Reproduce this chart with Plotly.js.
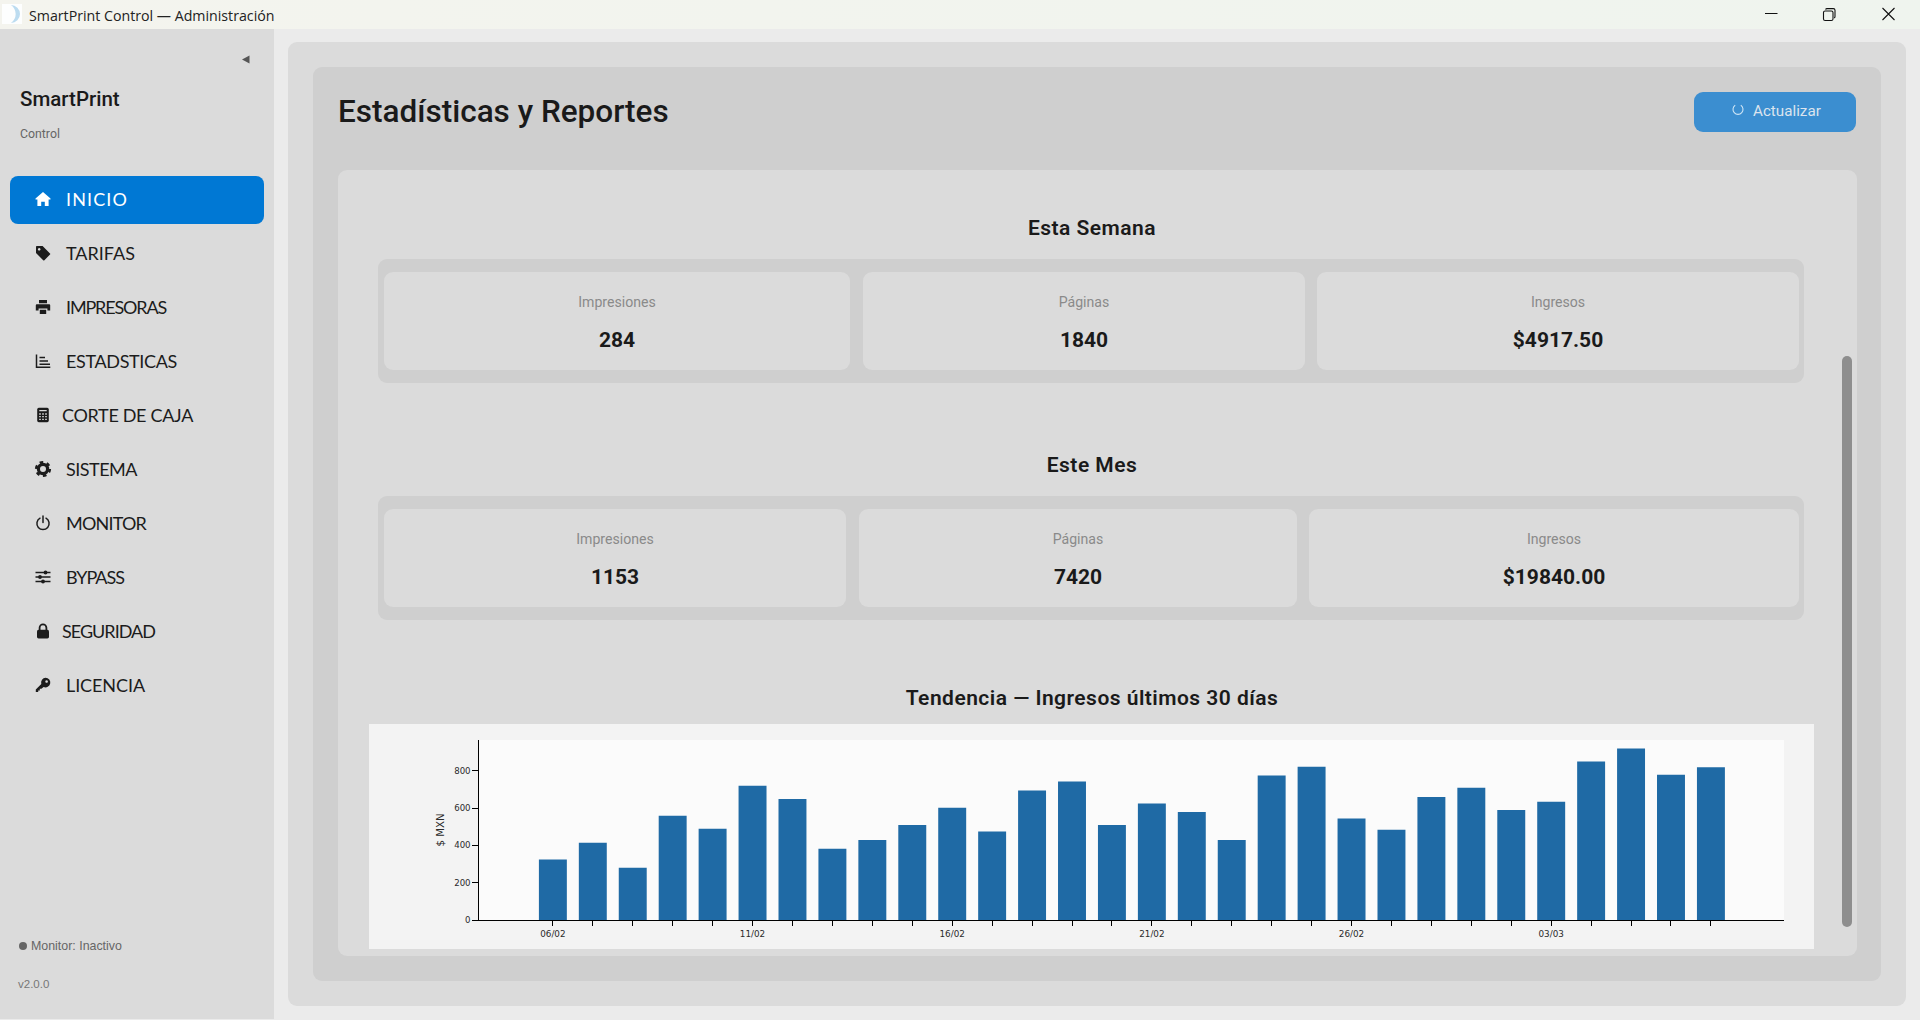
<!DOCTYPE html>
<html><head><meta charset="utf-8">
<script src="https://cdn.plot.ly/plotly-3.0.1.min.js"></script>
<style>
html,body{margin:0;padding:0;width:1920px;height:1020px;overflow:hidden;background:#ebebeb;font-family:Roboto,sans-serif}
.b{position:absolute;box-sizing:border-box}
.t{position:absolute;white-space:nowrap;line-height:1}
svg{position:absolute;overflow:visible}
</style></head><body>
<div id="root"></div>
<script>
// ---- chart data ----
const days = ["06/02","07/02","08/02","09/02","10/02","11/02","12/02","13/02","14/02","15/02","16/02","17/02","18/02","19/02","20/02","21/02","22/02","23/02","24/02","25/02","26/02","27/02","28/02","01/03","02/03","03/03","04/03","05/03","06/03","07/03"];
const revenue = [325,415,280,560,490,720,650,383,430,510,603,475,695,743,510,625,580,430,775,822,545,485,660,710,590,635,850,920,780,820];
const labeledDays = ["06/02","11/02","16/02","21/02","26/02","03/03"];
const yTicks = [0,200,400,600,800];
// ---- page text ----
const kpiLabels = ["Impresiones","Páginas","Ingresos"];
const weekValues = ["284","1840","$4917.50"];
const monthValues = ["1153","7420","$19840.00"];
const navItems = ["INICIO","TARIFAS","IMPRESORAS","ESTADSTICAS","CORTE DE CAJA","SISTEMA","MONITOR","BYPASS","SEGURIDAD","LICENCIA"];
const navIcons = ["home","tag","print","chart","calc","gear","power","sliders","lock","key"];

const root = document.getElementById('root');
function box(x0,y0,x1,y1,bg,r){const d=document.createElement('div');d.className='b';
  d.style.cssText+=`left:${x0}px;top:${y0}px;width:${x1-x0}px;height:${y1-y0}px;background:${bg};border-radius:${r||0}px`;root.appendChild(d);return d;}
function text(s,x,y,o){o=o||{};const d=document.createElement('div');d.className='t';d.textContent=s;
  const tx=o.center?'-50%':'0';
  d.style.cssText+=`left:${x}px;top:${y}px;transform:translate(${tx},-50%);font:${o.w||400} ${o.s||14}px ${o.f||'Roboto'},sans-serif;color:${o.c||'#1a1a1a'};letter-spacing:${o.ls||0}px`;
  root.appendChild(d);return d;}
function svg(x,y,w,h,vb,inner){const n=document.createElementNS('http://www.w3.org/2000/svg','svg');
  n.setAttribute('viewBox',vb);n.setAttribute('width',w);n.setAttribute('height',h);n.style.left=x+'px';n.style.top=y+'px';n.innerHTML=inner;root.appendChild(n);}

function icon(name,c){
  const bg = c==='#fff' ? '#0078d4' : '#dbdbdb';
  const s=`stroke="${c}" fill="none"`;
  return {
   home:`<path fill="${c}" d="M8 1L15.5 7.6V8.6H13.6V15H9.8V10.8H6.2V15H2.4V8.6H.5V7.6Z"/>`,
   tag:`<path fill="${c}" fill-rule="evenodd" d="M1 1.8Q1 1 1.8 1H7.6L15 8.4Q15.6 9 15 9.6L9.4 15.2Q8.8 15.8 8.2 15.2L1 8ZM4.2 3A1.3 1.3 0 1 0 4.21 3Z"/>`,
   print:`<path fill="${c}" d="M4 1H12V4.2H4ZM1.8 5.2H14.2Q15.2 5.2 15.2 6.2V11.6H12.4V9.6H3.6V11.6H.8V6.2Q.8 5.2 1.8 5.2ZM4.8 10.8H11.2V15H4.8Z"/>`,
   chart:`<path ${s} stroke-width="1.5" d="M1.5 1.5V14.3H15.3"/><path ${s} stroke-width="1.6" d="M4.5 4.5H10M4.5 8H13M4.5 11.3H15"/>`,
   calc:`<rect x="2.2" y=".8" width="11.6" height="14.4" rx="1.6" fill="${c}"/><path stroke="${bg}" stroke-width="1.3" d="M4.3 3.6H11.7M4.2 7H5.8M7.2 7H8.8M10.2 7H11.8M4.2 9.6H5.8M7.2 9.6H8.8M10.2 9.6H11.8M4.2 12.4H5.8M7.2 12.4H8.8M10.2 12.4H11.8"/>`,
   gear:`<circle cx="8" cy="8" r="4.6" ${s} stroke-width="3.2"/><circle cx="8" cy="8" r="6.9" ${s} stroke-width="2.4" stroke-dasharray="3.6 3.63"/>`,
   power:`<path ${s} stroke-width="1.5" stroke-linecap="round" d="M5 3.2A6.1 6.1 0 1 0 11 3.2M8 1V7.5"/>`,
   sliders:`<path ${s} stroke-width="1.4" d="M.5 3.5H15.5M.5 8H15.5M.5 12.5H15.5"/><circle cx="10.5" cy="3.5" r="1.9" fill="${c}"/><circle cx="5" cy="8" r="1.9" fill="${c}"/><circle cx="8" cy="12.5" r="1.9" fill="${c}"/>`,
   lock:`<rect x="2" y="6.8" width="12" height="8.6" rx="1.6" fill="${c}"/><path ${s} stroke-width="1.8" d="M4.6 7.5V4.8A3.4 3.4 0 0 1 11.4 4.8V7.5"/>`,
   key:`<path fill="${c}" fill-rule="evenodd" d="M10.6 .8A4.8 4.8 0 1 1 8.6 10L6.4 11.8H4.8V13.4H3.2V15H.8V12.4L6.3 6.9A4.8 4.8 0 0 1 10.6 .8ZM11.6 3.2A1.3 1.3 0 1 0 11.61 3.2Z"/>`
  }[name];
}

// window chrome
box(0,0,1920,29,'linear-gradient(90deg,#f4f4ee,#eff4ee)');
svg(2,4,20,20,'0 0 20 20','<rect width="20" height="20" fill="#fdfefe"/><path d="M9 1A9 9 0 0 1 9 19A11 11 0 0 0 9 1Z" fill="#bcdcf0"/>');
text('SmartPrint Control — Administración',29,15,{s:14.2,f:'Open Sans',c:'#222'});
svg(1765,8,130,14,'0 0 130 14','<path d="M0 5.5H12.5M117.5 0L129.5 12M129.5 0L117.5 12" stroke="#111" stroke-width="1.1" fill="none"/><rect x="58.5" y="3" width="9.5" height="9.5" rx="1.6" stroke="#111" stroke-width="1.1" fill="none"/><path d="M60.5 1.6Q61 .6 62 .6H68.3Q70 .6 70 2.3V8.6Q70 9.6 69.2 10" stroke="#111" stroke-width="1.1" fill="none"/>');

// sidebar
box(0,29,274,1019,'#dbdbdb');
svg(241,55,9,9,'0 0 9 9','<path d="M8.5 .5V8.5L1 4.5Z" fill="#555"/>');
text('SmartPrint',20,99,{s:20.5,w:500});
text('Control',20,134,{s:12.3,c:'#666'});
box(10,176,264,224,'#0078d4',8);
const navX = [66,66,66,66,62,66,66,66,62,66];
const navW = [62,69,100,111,131,71,80,58,93,79];
navItems.forEach((n,i)=>{
  const y=199+54*i, c=i===0?'#fff':'#1c1c1c';
  svg(35,y-8,16,16,'0 0 16 16',icon(navIcons[i],c));
  const d=text(n,navX[i],y,{s:18,f:'Lato',c:c});
  d.dataset.fit=navW[i];
});
box(19,942,27,950,'#666',4);
text('Monitor: Inactivo',31,946,{s:12.4,f:'Liberation Sans',c:'#666'});
text('v2.0.0',18,984,{s:11.5,f:'Liberation Sans',c:'#777'});

// panels
box(288,42,1906,1006,'#dbdbdb',9);
box(313,67,1881,981,'#cfcfcf',9);
box(338,170,1857,956,'#dbdbdb',9);
text('Estadísticas y Reportes',338,111,{s:31.5,w:500});
box(1694,92,1856,132,'#3b8ed0',9);
svg(1732,104,12,12,'0 0 12 12','<path d="M3.2 1.2A5 5 0 1 0 8.8 1.2" stroke="#cfe6f6" stroke-width="1.1" fill="none"/>');
text('Actualizar',1753,111,{s:15.2,c:'#dce4ee'});

function group(title,titleY,y0,y1,cy0,cy1,labelY,valueY,cards,values){
  text(title,1092,titleY,{s:21,w:600,ls:.47,center:true});
  box(378,y0,1804,y1,'#cfcfcf',9);
  cards.forEach((c,i)=>{
    box(c[0],cy0,c[1],cy1,'#dbdbdb',9);
    const cx=(c[0]+c[1])/2;
    text(kpiLabels[i],cx,labelY,{s:14.1,c:'#8a8a8a',center:true});
    text(values[i],cx,valueY,{s:21,w:700,center:true});
  });
}
group('Esta Semana',228,259,383,272,370,302,340,[[384,850],[863,1305],[1317,1799]],weekValues);
group('Este Mes',465,496,620,509,607,539,577,[[384,846],[859,1297],[1309,1799]],monthValues);
text('Tendencia — Ingresos últimos 30 días',1092,698,{s:21,w:600,ls:.47,center:true});
box(1842,356,1852,927,'#8e8e8e',5);

// chart
const cd=document.createElement('div');cd.id='chart';cd.className='b';
cd.style.cssText+='left:369px;top:724px;width:1445px;height:225px';root.appendChild(cd);
Plotly.newPlot('chart',[{type:'bar',x:days,y:revenue,marker:{color:'#1f6aa5',line:{width:0}},hoverinfo:'x+y'}],{
  width:1445,height:225,
  margin:{l:110.4,r:30,t:16,b:29,pad:0},
  paper_bgcolor:'#f3f3f3',plot_bgcolor:'#fbfbfb',
  bargap:0.3,showlegend:false,
  font:{family:'DejaVu Sans',size:9,color:'#2a2a2a'},
  xaxis:{type:'category',categoryorder:'array',categoryarray:days,range:[-1.85,30.83],tickmode:'array',tickvals:days,
    ticktext:days.map(d=>labeledDays.includes(d)?d:''),ticks:'outside',ticklen:5,tickwidth:1,tickcolor:'#000',
    showline:true,linecolor:'#000',linewidth:1.2,showgrid:false,zeroline:false,tickangle:0,tickfont:{size:8.8,family:'DejaVu Sans',color:'#2a2a2a'}},
  yaxis:{range:[0,966],tickmode:'array',tickvals:yTicks,ticks:'outside',ticklen:5.5,tickwidth:1,tickcolor:'#000',
    showline:true,linecolor:'#000',linewidth:1.2,showgrid:false,zeroline:false,tickfont:{size:8.6,family:'DejaVu Sans',color:'#2a2a2a'},
    title:{text:'$ MXN',font:{size:10.2,family:'DejaVu Sans',color:'#2a2a2a'},standoff:7}}
},{displayModeBar:false,staticPlot:true});

// fit nav labels to the reference widths
document.querySelectorAll('[data-fit]').forEach(d=>{
  const w=d.getBoundingClientRect().width,n=d.textContent.length;
  d.style.letterSpacing=((+d.dataset.fit-w)/n).toFixed(2)+'px';
});
</script></body></html>
